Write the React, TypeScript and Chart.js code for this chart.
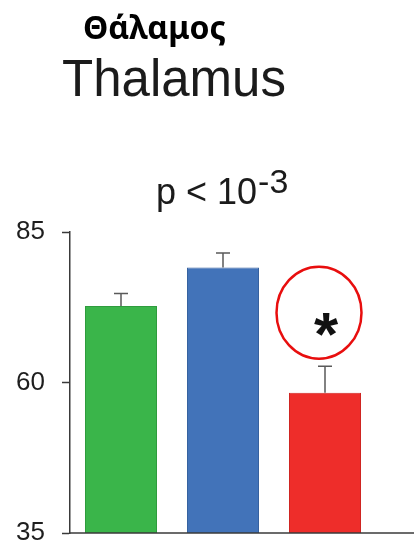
import React, { useEffect, useRef } from "react";
import { Chart, registerables } from "chart.js";

Chart.register(...registerables);

// Group means and upper error (SEM) for the three conditions
const groups = ["Group 1", "Group 2", "Group 3"];
const means = [72.7, 79.1, 58.3];
const errors = [2.1, 2.4, 4.4];
const barColors = ["#3ab54a", "#4273b9", "#ee2d2a"];
const barEdges = ["#2f9c3e", "#37629f", "#cf2522"];
const yTicks = [35, 60, 85];

const greekTitle = "Θάλαμος";
const englishTitle = "Thalamus";
const pLabel = "p < 10";
const pExponent = "-3";
const marker = "*";

const SANS = '"Liberation Sans", Arial, Helvetica, sans-serif';

// Error bars drawn above each bar
const errorBarPlugin = {
  id: "errorBars",
  afterDatasetsDraw(chart: any) {
    const { ctx } = chart;
    const meta = chart.getDatasetMeta(0);
    const y = chart.scales.y;
    ctx.save();
    ctx.strokeStyle = "#5a5a5a";
    ctx.lineWidth = 1.5;
    meta.data.forEach((bar: any, i: number) => {
      const top = y.getPixelForValue(means[i] + errors[i]);
      const base = y.getPixelForValue(means[i]);
      ctx.beginPath();
      ctx.moveTo(bar.x, base);
      ctx.lineTo(bar.x, top);
      ctx.moveTo(bar.x - 7, top);
      ctx.lineTo(bar.x + 7, top);
      ctx.stroke();
    });
    ctx.restore();
  },
};

// Headings, significance label, baseline and the highlighted marker
const decorPlugin = {
  id: "decor",
  afterDraw(chart: any) {
    const { ctx, chartArea, width } = chart;
    const y = chart.scales.y;
    const meta = chart.getDatasetMeta(0);
    ctx.save();

    // baseline running to the right edge
    ctx.strokeStyle = "#3a3a3a";
    ctx.lineWidth = 1.5;
    ctx.beginPath();
    ctx.moveTo(chartArea.left, chartArea.bottom);
    ctx.lineTo(width, chartArea.bottom);
    ctx.stroke();

    ctx.textAlign = "left";
    ctx.textBaseline = "alphabetic";

    ctx.fillStyle = "#000";
    ctx.font = 'bold 32px "Noto Sans", "DejaVu Sans", sans-serif';
    ctx.fillText(greekTitle, 83, 39);

    ctx.fillStyle = "#1b1b1b";
    ctx.font = `51px ${SANS}`;
    ctx.fillText(englishTitle, 62, 96);

    ctx.font = `36px ${SANS}`;
    ctx.fillText(pLabel, 156, 204);
    const w = ctx.measureText(pLabel).width;
    ctx.font = `34px ${SANS}`;
    ctx.fillText(pExponent, 156 + w + 1, 193);

    // circled asterisk above the third bar
    const last = meta.data[2];
    const cx = last.x - 6;
    const cy = y.getPixelForValue(71.6);
    ctx.strokeStyle = "#e80e0e";
    ctx.lineWidth = 2.5;
    ctx.beginPath();
    ctx.ellipse(cx, cy, 42.5, 46, 0, 0, Math.PI * 2);
    ctx.stroke();

    ctx.fillStyle = "#111";
    ctx.font = `bold 62px ${SANS}`;
    ctx.textAlign = "center";
    ctx.fillText(marker, last.x + 1, y.getPixelForValue(64.6));

    ctx.restore();
  },
};

export default function App() {
  const canvasRef = useRef<HTMLCanvasElement | null>(null);

  useEffect(() => {
    document.body.style.margin = "0";
    const canvas = canvasRef.current;
    if (!canvas) return;
    const chart = new Chart(canvas, {
      type: "bar",
      data: {
        labels: groups,
        datasets: [
          {
            data: means,
            backgroundColor: barColors,
            borderColor: barEdges,
            borderWidth: 1,
            barPercentage: 0.706,
            categoryPercentage: 1,
          },
        ],
      },
      options: {
        responsive: false,
        animation: false,
        devicePixelRatio: 1,
        layout: { padding: { top: 232, bottom: 19, left: 0, right: 38 } },
        plugins: {
          legend: { display: false },
          tooltip: { enabled: false },
          title: { display: false },
        },
        scales: {
          x: { display: false },
          y: {
            min: 35,
            max: 85,
            afterFit(scale: any) {
              scale.width = 70;
              scale.paddingTop = 0;
              scale.paddingBottom = 0;
            },
            afterBuildTicks(scale: any) {
              scale.ticks = yTicks.map((v) => ({ value: v }));
            },
            ticks: {
              padding: 17,
              color: "#1e1e1e",
              font: { family: SANS, size: 26 },
            },
            grid: {
              display: true,
              drawOnChartArea: false,
              drawTicks: true,
              tickLength: 8,
              tickWidth: 1.5,
              tickColor: "#3a3a3a",
            },
            border: { display: true, color: "#3a3a3a", width: 1.5 },
          },
        },
      },
      plugins: [errorBarPlugin, decorPlugin],
    });
    return () => chart.destroy();
  }, []);

  return (
    <div style={{ width: 414, height: 552, background: "#fff" }}>
      <canvas ref={canvasRef} width={414} height={552} />
    </div>
  );
}
